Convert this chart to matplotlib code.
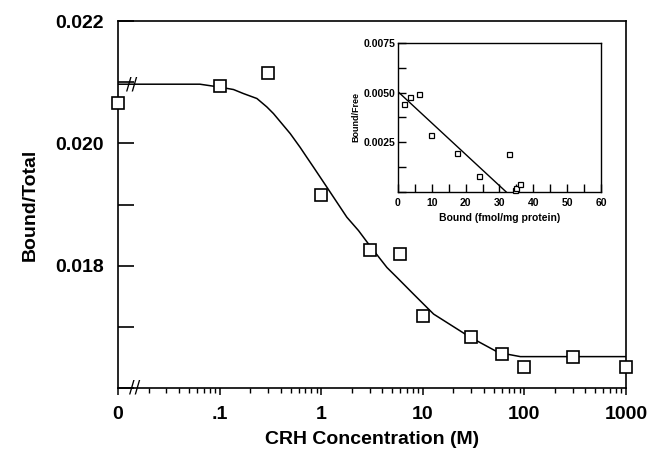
import matplotlib
matplotlib.use('Agg')
import matplotlib.pyplot as plt
from matplotlib.ticker import FixedLocator, LogLocator, NullFormatter, MultipleLocator
import matplotlib.transforms as mtransforms

plt.rcParams['font.family'] = ['Liberation Sans', 'DejaVu Sans']
plt.rcParams['font.weight'] = 'bold'

# main panel: CRH competition, the "0" dose sits at 0.01 on the log axis
crh_conc = [0.01, 0.1, 0.3, 1, 3, 6, 10, 30, 60, 100, 300, 1000]
bound_total = [0.02066, 0.02093, 0.02115, 0.01915, 0.01826, 0.01819, 0.01718,
               0.01684, 0.01656, 0.01634, 0.01651, 0.01634]

# fitted curve
fit_conc = [0.01, 0.064, 0.097, 0.137, 0.171, 0.233, 0.292, 0.339, 0.496,
            0.621, 0.72, 0.84, 1.09, 1.79, 2.33, 2.92, 4.44, 5.57, 8.1,
            11.0, 12.8, 28.9, 55.8, 91.4, 1000]
fit_bound = [0.020967, 0.020967, 0.020923, 0.020880, 0.020815, 0.020733, 0.020595,
             0.020487, 0.020159, 0.019934, 0.019775, 0.019611, 0.019330,
             0.018792, 0.018574, 0.018356, 0.017970, 0.017808, 0.017536,
             0.017316, 0.017208, 0.016836, 0.016579, 0.016513, 0.016513]

x_ticks = [0.01, 0.1, 1, 10, 100, 1000]
x_labels = ['0', '.1', '1', '10', '100', '1000']
y_ticks = [0.018, 0.020, 0.022]
y_labels = ['0.018', '0.020', '0.022']

# inset: Scatchard plot
scat_bound = [1.8, 3.5, 6.1, 9.7, 17.5, 24.0, 32.9, 34.6, 35.0, 36.1]
scat_ratio = [0.00441, 0.00477, 0.00493, 0.00288, 0.00198, 0.00081, 0.0019,
              0.0001, 0.0002, 0.00042]
scat_fit_x = [0, 32]
scat_fit_y = [0.00505, 0.0]

fig = plt.figure(figsize=(6.52, 4.53), dpi=100)
ax = fig.add_axes([0.181, 0.1435, 0.779, 0.8101])

ax.plot(fit_conc, fit_bound, color='black', lw=1.1)
ax.plot(crh_conc, bound_total, 's', ms=8, mfc='white', mec='black', mew=1.2,
        clip_on=False, zorder=3)

ax.set_xscale('log')
ax.set_xlim(0.01, 1000)
ax.set_ylim(0.016, 0.022)

ax.xaxis.set_major_locator(FixedLocator(x_ticks))
ax.set_xticklabels(x_labels)
ax.xaxis.set_minor_locator(LogLocator(base=10, subs=range(2, 10)))
ax.xaxis.set_minor_formatter(NullFormatter())
ax.yaxis.set_major_locator(FixedLocator(y_ticks))
ax.set_yticklabels(y_labels)
ax.yaxis.set_minor_locator(MultipleLocator(0.001))

for s in ax.spines.values():
    s.set_linewidth(1.2)
ax.tick_params(axis='y', which='both', direction='in', length=11.5, width=1.2,
               labelsize=14, pad=10, right=False)
ax.tick_params(axis='x', which='major', direction='out', length=5, width=1.1,
               labelsize=14, pad=8, top=False)
ax.tick_params(axis='x', which='minor', direction='out', length=3.6, width=1.0, top=False)

ax.set_xlabel('CRH Concentration (M)', fontsize=14, fontweight='bold', labelpad=6)
ax.set_ylabel('Bound/Total', fontsize=14, fontweight='bold', labelpad=12)

# axis break marks
ax.text(0.0135, fit_bound[0], '//', fontsize=12, ha='center', va='center',
        fontweight='normal', family='DejaVu Sans')
trans = mtransforms.blended_transform_factory(ax.transData, ax.transAxes)
ax.text(0.0147, 0.0, '//', transform=trans, fontsize=12, ha='center', va='center',
        fontweight='normal', family='DejaVu Sans')

# inset
ins = fig.add_axes([0.6104, 0.5762, 0.3113, 0.3289])
ins.plot(scat_fit_x, scat_fit_y, color='black', lw=1.0)
ins.plot(scat_bound, scat_ratio, 's', ms=3.6, mfc='white', mec='black', mew=0.9,
         clip_on=False, zorder=3)
ins.set_xlim(0, 60)
ins.set_ylim(0, 0.0075)
ins.xaxis.set_major_locator(MultipleLocator(10))
ins.xaxis.set_minor_locator(MultipleLocator(5))
ins.set_yticks([0.0025, 0.0050, 0.0075])
ins.set_yticklabels(['0.0025', '0.0050', '0.0075'])
ins.yaxis.set_minor_locator(MultipleLocator(0.00125))
for s in ins.spines.values():
    s.set_linewidth(1.0)
ins.tick_params(which='both', direction='in', length=6, width=1.0, labelsize=7.5,
                top=False, right=False)
ins.tick_params(axis='x', pad=4)
ins.tick_params(axis='y', pad=2)
ins.set_xlabel('Bound (fmol/mg protein)', fontsize=7.5, fontweight='bold', labelpad=4)
ins.set_ylabel('Bound/Free', fontsize=6.5, fontweight='bold', labelpad=2)

fig.savefig('out.png', dpi=100)
